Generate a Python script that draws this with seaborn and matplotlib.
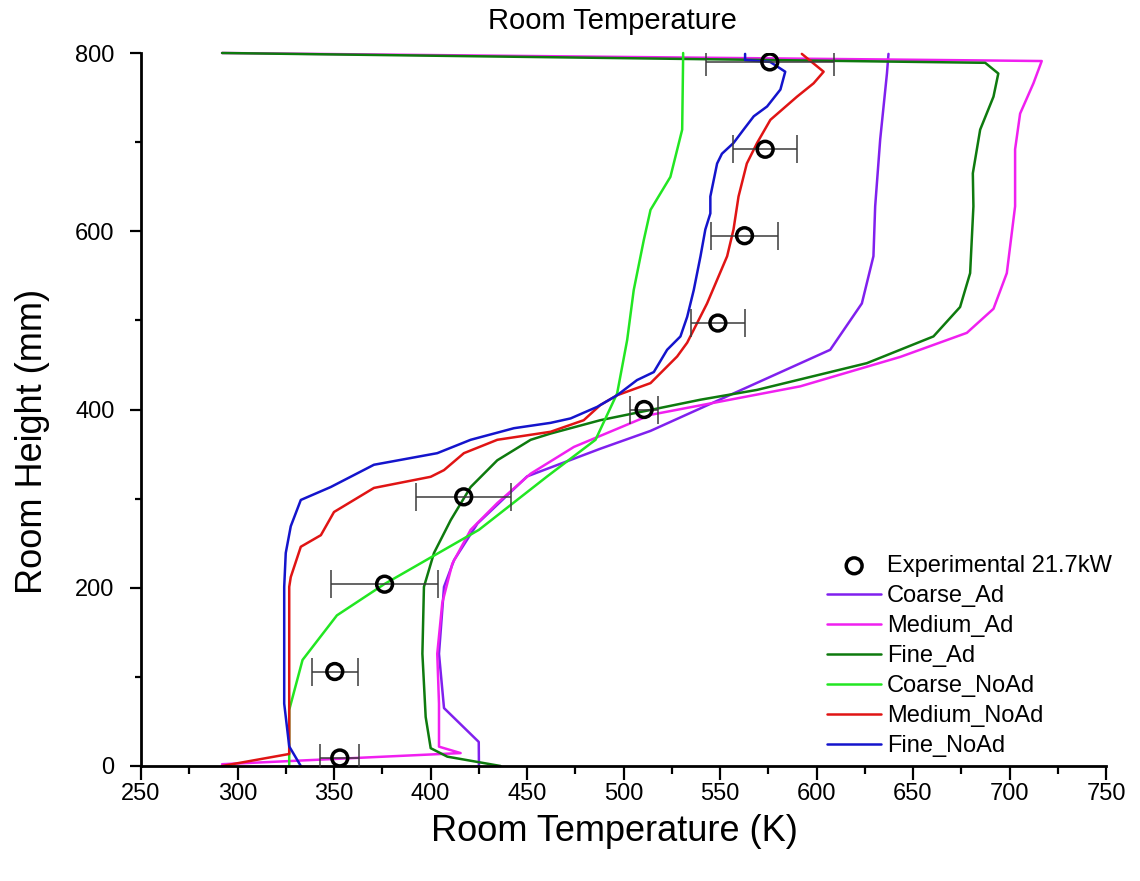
import numpy as np
import pandas as pd
import matplotlib
matplotlib.use("Agg")
import matplotlib.pyplot as plt
import seaborn as sns
from matplotlib.ticker import MultipleLocator

# ---- data -----------------------------------------------------------------
series_names = ["Coarse_Ad", "Medium_Ad", "Fine_Ad",
                "Coarse_NoAd", "Medium_NoAd", "Fine_NoAd"]

coarse_ad_T = [425.1, 425.0, 407.0, 404.4, 407.0, 412.2, 424.3, 450.1, 488.0,
               514.0, 607.1, 623.5, 629.5, 630.4, 633.0, 636.5, 637.3]
coarse_ad_h = [0, 27, 65, 126, 201, 231, 272, 325, 356,
               376, 467, 519, 572, 628, 703, 777, 799]

medium_ad_T = [292.0, 415.6, 404.4, 404.4, 403.5, 406.1, 411.3, 420.8, 434.6,
               451.9, 474.3, 514.0, 591.6, 643.4, 677.9, 691.7, 698.6, 702.9,
               702.9, 705.5, 712.4, 716.7, 292.0]
medium_ad_h = [2, 14.5, 21.7, 70, 126, 183, 227, 265, 295,
               328, 358, 394, 426, 459, 486, 513, 553, 628,
               692, 732, 766, 791, 800]

fine_ad_T = [436.3, 408.7, 400.1, 397.5, 395.8, 396.6, 401.8, 410.5, 420.8,
             434.6, 451.9, 462.2, 488.0, 539.9, 569.2, 626.1, 660.6, 674.4,
             679.6, 681.3, 681.0, 684.8, 691.7, 694.2, 687.4, 292.0]
fine_ad_h = [0, 10.5, 20, 55, 126, 201, 239, 276, 313,
             343, 366, 373, 388, 411, 422, 452, 482, 515,
             553, 628, 665, 714, 751, 777, 789, 800]

coarse_noad_T = [326.8, 326.8, 333.7, 351.5, 376.0, 425.1, 460.5, 485.5, 496.7,
                 501.9, 505.3, 510.5, 514.0, 524.3, 530.4, 530.9, 530.9]
coarse_noad_h = [0, 63, 119, 169, 204, 265, 325, 366, 418,
                 478, 534, 590, 624, 661, 714, 796, 800]

medium_noad_T = [292.0, 326.8, 326.8, 327.6, 332.8, 343.2, 350.0, 370.7, 400.1,
                 407.0, 417.3, 434.6, 462.2, 479.4, 488.0, 496.7, 514.0, 527.8,
                 533.0, 543.3, 553.7, 557.0, 559.6, 563.9, 569.2, 576.1, 589.9,
                 598.5, 603.7, 592.4]
medium_noad_h = [0, 13.5, 201, 212, 246, 259, 285, 312, 324.5,
                 332, 351, 366, 375, 388, 405, 416, 429.6, 459.5,
                 475, 519, 572, 602, 639, 676, 699, 725, 751,
                 766, 779, 799]

fine_noad_T = [332.8, 326.8, 324.2, 324.2, 325.0, 327.6, 332.8, 348.3, 370.7,
               403.5, 420.8, 443.2, 462.2, 472.6, 486.4, 496.7, 507.0, 515.7,
               522.6, 529.5, 533.0, 536.4, 539.9, 542.4, 545.0, 545.0, 548.5,
               551.0, 557.0, 562.2, 567.5, 574.4, 581.3, 583.8, 576.0, 563.0,
               563.0]
fine_noad_h = [0, 22, 70, 201, 239, 269, 298.5, 313, 338,
               351, 366, 379, 385, 390, 403, 416, 433, 442,
               467, 482, 504, 534, 572, 602, 620, 639, 676,
               687, 699, 714, 729, 740, 759, 779, 790, 792,
               799]

exp_T = [353.0, 350.4, 376.2, 417.2, 510.7, 548.9, 562.7, 573.4, 575.8]
exp_h = [9, 106, 204, 302, 400, 497, 595, 692, 790]
exp_err = [10.2, 11.9, 27.5, 24.7, 7.1, 13.9, 17.5, 16.5, 33.2]

series_T = [coarse_ad_T, medium_ad_T, fine_ad_T,
            coarse_noad_T, medium_noad_T, fine_noad_T]
series_h = [coarse_ad_h, medium_ad_h, fine_ad_h,
            coarse_noad_h, medium_noad_h, fine_noad_h]
colors = ["#8020EE", "#F020F0", "#0E7A0E", "#22E622", "#E01414", "#1414CC"]

# ---- style ----------------------------------------------------------------
sns.set_style("ticks")
plt.rcParams["font.family"] = ["Liberation Sans", "DejaVu Sans"]
plt.rcParams["text.color"] = "black"
plt.rcParams["axes.labelcolor"] = "black"
plt.rcParams["xtick.color"] = "black"
plt.rcParams["ytick.color"] = "black"

fig = plt.figure(figsize=(11.4, 8.81), dpi=100)
ax = fig.add_axes([141 / 1140, 1 - 766 / 881, (1106 - 141) / 1140, (766 - 53) / 881])

for name, T, h, c in zip(series_names, series_T, series_h, colors):
    df = pd.DataFrame({"T": T, "h": h})
    sns.lineplot(data=df, x="T", y="h", sort=False, estimator=None,
                 color=c, linewidth=1.8, label=name, ax=ax, clip_on=False,
                 zorder=2)

# experimental points with horizontal error bars
ax.errorbar(exp_T, exp_h, xerr=exp_err, fmt="none", ecolor="#3a3a3a",
            elinewidth=1.1, capsize=10, capthick=1.1, zorder=3)
exp_df = pd.DataFrame({"T": exp_T, "h": exp_h})
sns.scatterplot(data=exp_df, x="T", y="h", marker="o", s=130,
                facecolors="none", edgecolor="black", linewidth=2.5,
                label="Experimental 21.7kW", ax=ax, zorder=4)

ax.set_xlim(250, 750)
ax.set_ylim(0, 800)
ax.xaxis.set_major_locator(MultipleLocator(50))
ax.xaxis.set_minor_locator(MultipleLocator(25))
ax.yaxis.set_major_locator(MultipleLocator(200))
ax.yaxis.set_minor_locator(MultipleLocator(100))

sns.despine(ax=ax)
for side in ("left", "bottom"):
    ax.spines[side].set_linewidth(2.0)
    ax.spines[side].set_color("black")

ax.tick_params(axis="x", which="major", direction="out", length=10, width=1.6,
               labelsize=17, pad=2)
ax.tick_params(axis="x", which="minor", direction="out", length=5.5, width=1.6)
ax.tick_params(axis="y", which="major", direction="out", length=8, width=1.6,
               labelsize=17, pad=11)
ax.tick_params(axis="y", which="minor", direction="out", length=4.5, width=1.6)

ax.set_xlabel("Room Temperature (K)", fontsize=26)
ax.set_ylabel("Room Height (mm)", fontsize=26)
ax.xaxis.set_label_coords((614 - 141) / 965, (766 - 814) / 713)
ax.yaxis.set_label_coords((50 - 141) / 965, (766 - 441) / 713)

fig.text(612 / 1140, 1 - 21 / 881, "Room Temperature", ha="center",
         va="center", fontsize=21)

handles, labels = ax.get_legend_handles_labels()
order = [labels.index("Experimental 21.7kW")] + [labels.index(n) for n in series_names]
ax.legend([handles[i] for i in order], [labels[i] for i in order],
          loc="upper left", bbox_to_anchor=(827 / 1140, 1 - 555 / 881),
          bbox_transform=fig.transFigure, frameon=False, fontsize=17,
          handlelength=2.3, handletextpad=0.25, labelspacing=0.34,
          borderpad=0, borderaxespad=0)

ax.set_facecolor("white")
fig.patch.set_facecolor("white")
fig.savefig("out.png", dpi=100, facecolor="white")
